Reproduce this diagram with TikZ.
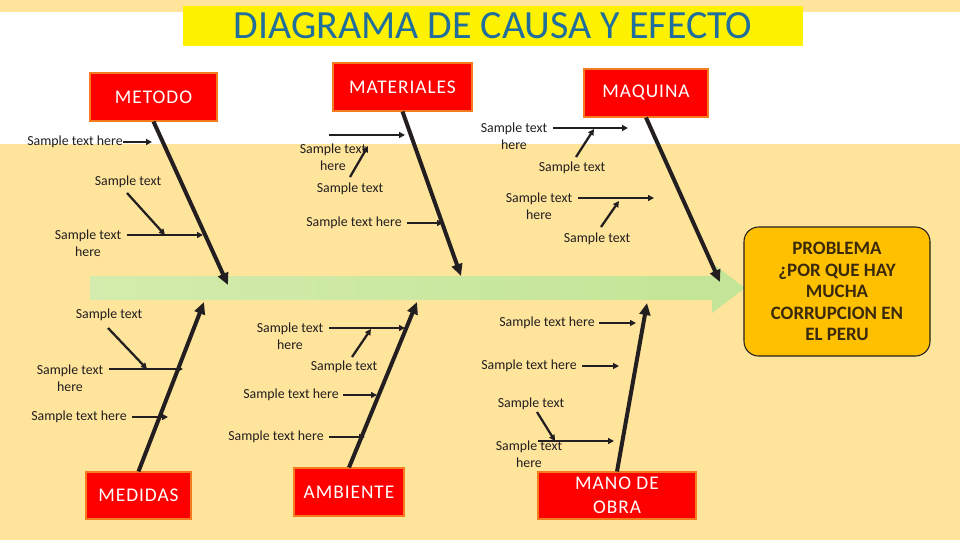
\documentclass[tikz,border=0pt]{standalone}
\usepackage{fontspec}
\setmainfont{Carlito}
\newfontfamily\catfont[LetterSpace=5]{Carlito}
\usetikzlibrary{arrows.meta}
\definecolor{bgyellow}{HTML}{FFE49C}
\definecolor{titleblue}{HTML}{1F6E9C}
\definecolor{boxred}{HTML}{FF0000}
\definecolor{redborder}{HTML}{F47B20}
\definecolor{probfill}{HTML}{FFC000}
\definecolor{ink}{HTML}{231F20}
\definecolor{probink}{HTML}{3A2A0A}
\definecolor{greenA}{HTML}{D3ECAD}
\definecolor{greenB}{HTML}{C3E596}
\tikzset{
  catbox/.style={draw=redborder, line width=0.8pt, fill=boxred, text=white,
    font=\catfont\fontsize{14.5}{18}\selectfont, inner sep=0pt, align=center},
  lbl/.style={text=ink, font=\fontsize{10.4}{12.75}\selectfont, inner sep=0pt, align=center},
  bone/.style={draw=ink, line width=3pt, -{Triangle[length=9pt,width=8pt]}},
  twig/.style={draw=ink, line width=1.7pt, -{Triangle[length=4.5pt,width=4.5pt]}},
}
\begin{document}
\begin{tikzpicture}[x=0.75pt,y=-0.75pt]
\useasboundingbox (0,0) rectangle (960,540);
% background
\fill[bgyellow] (0,0) rectangle (960,540);
\fill[white] (0,12) rectangle (960,144);
% title
\node[fill=yellow, minimum width=465pt, minimum height=30pt, inner sep=0pt,
  text=titleblue, font=\fontsize{30}{30}\selectfont] (title) at (493,26) {DIAGRAMA DE CAUSA Y EFECTO};
% spine
\shade[left color=greenA, right color=greenB]
  (90,276) -- (712,276) -- (712,263) -- (745,288) -- (712,313) -- (712,300) -- (90,300) -- cycle;
% problem
\node[draw=ink, line width=0.8pt, fill=probfill, rounded corners=11pt,
  minimum width=139.5pt, minimum height=96.75pt, inner sep=0pt, align=center,
  text=probink, font=\bfseries\fontsize{14.2}{16.1}\selectfont] (prob) at (837,291.5)
  {PROBLEMA\\¿POR QUE HAY\\MUCHA\\CORRUPCION EN\\EL PERU};
% category boxes
\node[catbox, minimum width=95.25pt, minimum height=36pt] (metodo) at (153.5,97) {METODO};
\node[catbox, minimum width=104.25pt, minimum height=36pt] (materiales) at (402.5,87) {MATERIALES};
\node[catbox, minimum width=93pt, minimum height=36pt] (maquina) at (646,93) {MAQUINA};
\node[catbox, minimum width=78.75pt, minimum height=35.25pt] (medidas) at (138.5,495.5) {MEDIDAS};
\node[catbox, minimum width=82.5pt, minimum height=36pt] (ambiente) at (349,492) {AMBIENTE};
\node[catbox, minimum width=118.5pt, minimum height=35.25pt] (mano) at (617,495.5) {MANO DE\\OBRA};
% bone tips
\coordinate (tmet) at (228,285);
\coordinate (tmat) at (461,276);
\coordinate (tmaq) at (720,282);
\coordinate (tmed) at (204,302);
\coordinate (tamb) at (417,302);
\coordinate (tman) at (647,303);
\draw[bone] (metodo.south) -- (tmet);
\draw[bone] (materiales.south) -- (tmat);
\draw[bone] (maquina.south) -- (tmaq);
\draw[bone] (medidas.north) -- (tmed);
\draw[bone] (ambiente.north) -- (tamb);
\draw[bone] (mano.north) -- (tman);
% labels
\node[lbl] (l1) at (75,142) {Sample text here};
\node[lbl] (l2) at (128,182) {Sample text};
\node[lbl] (l3) at (88,243.5) {Sample text\\here};
\node[lbl] (l4) at (333,157) {Sample text\\here};
\node[lbl] (l5) at (350,189) {Sample text};
\node[lbl] (l6) at (354,223) {Sample text here};
\node[lbl] (l7) at (514,136) {Sample text\\here};
\node[lbl] (l8) at (572,168) {Sample text};
\node[lbl] (l9) at (539,206.5) {Sample text\\here};
\node[lbl] (l10) at (597,239) {Sample text};
\node[lbl] (l11) at (109,315) {Sample text};
\node[lbl] (l12) at (70,378) {Sample text\\here};
\node[lbl] (l13) at (79,417) {Sample text here};
\node[lbl] (l14) at (290,336) {Sample text\\here};
\node[lbl] (l15) at (344,367) {Sample text};
\node[lbl] (l16) at (291,395) {Sample text here};
\node[lbl] (l17) at (276,437) {Sample text here};
\node[lbl] (l18) at (547,323) {Sample text here};
\node[lbl] (l19) at (529,366) {Sample text here};
\node[lbl] (l20) at (531,404) {Sample text};
\node[lbl] (l21) at (529,454.5) {Sample text\\here};
% twig coordinates
\coordinate (a1s) at (123,142); \coordinate (a1e) at (152,142);
\coordinate (a2s) at (127,193); \coordinate (a2e) at (165,235);
\coordinate (a3s) at (127,235); \coordinate (a3e) at (203,235);
\coordinate (a4s) at (329,135); \coordinate (a4e) at (405,135);
\coordinate (a5s) at (350,177); \coordinate (a5e) at (368,146);
\coordinate (a6s) at (407,223); \coordinate (a6e) at (443,223);
\coordinate (a7s) at (553,128); \coordinate (a7e) at (628,128);
\coordinate (a8s) at (576,157); \coordinate (a8e) at (594,129);
\coordinate (a9s) at (578,198); \coordinate (a9e) at (654,198);
\coordinate (a10s) at (601,227); \coordinate (a10e) at (619,201);
\coordinate (a11s) at (108,328); \coordinate (a11e) at (147,369);
\coordinate (a12s) at (109,369); \coordinate (a12e) at (183,369);
\coordinate (a13s) at (132,417); \coordinate (a13e) at (168,417);
\coordinate (a14s) at (329,328); \coordinate (a14e) at (405,328);
\coordinate (a15s) at (352,357); \coordinate (a15e) at (371,329);
\coordinate (a16s) at (343,395); \coordinate (a16e) at (377,395);
\coordinate (a17s) at (329,437); \coordinate (a17e) at (365,437);
\coordinate (a18s) at (599,323); \coordinate (a18e) at (636,323);
\coordinate (a19s) at (582,366); \coordinate (a19e) at (619,366);
\coordinate (a20s) at (537,412); \coordinate (a20e) at (555,441);
\coordinate (a21s) at (538,441); \coordinate (a21e) at (614,441);
\foreach \i in {1,...,21} { \draw[twig] (a\i s) -- (a\i e); }
\end{tikzpicture}
\end{document}
